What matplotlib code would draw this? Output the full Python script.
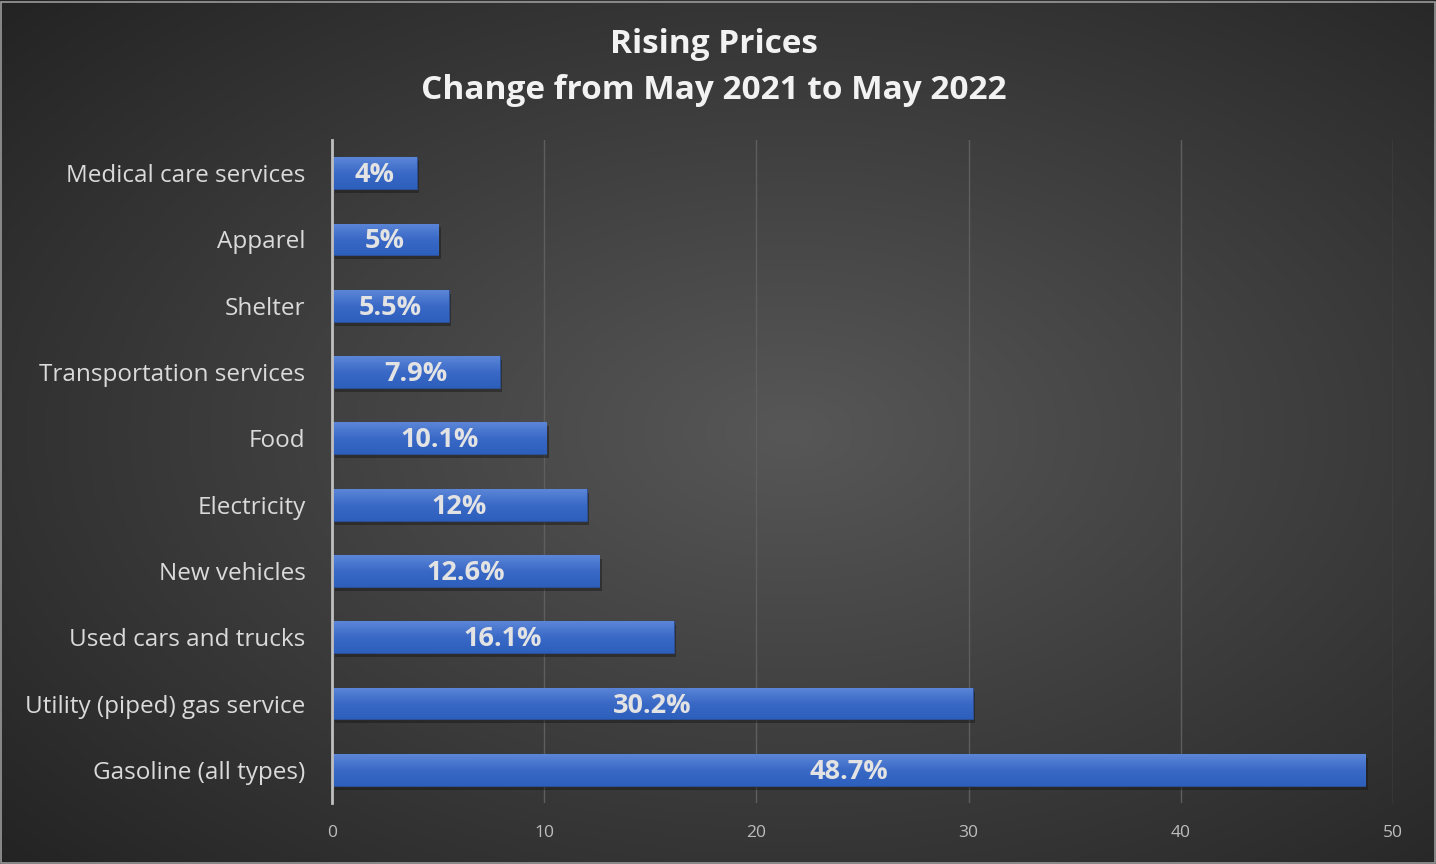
import numpy as np
import matplotlib
matplotlib.use("Agg")
import matplotlib.pyplot as plt
from matplotlib.colors import LinearSegmentedColormap

categories = ["Medical care services", "Apparel", "Shelter", "Transportation services",
              "Food", "Electricity", "New vehicles", "Used cars and trucks",
              "Utility (piped) gas service", "Gasoline (all types)"]
values = [4, 5, 5.5, 7.9, 10.1, 12, 12.6, 16.1, 30.2, 48.7]
labels = ["4%", "5%", "5.5%", "7.9%", "10.1%", "12%", "12.6%", "16.1%", "30.2%", "48.7%"]
xticks = [0, 10, 20, 30, 40, 50]

plt.rcParams['font.family'] = ['Open Sans', 'DejaVu Sans']

fig = plt.figure(figsize=(14.36, 8.64), dpi=100)

# radial background
bg = fig.add_axes([0, 0, 1, 1])
yy, xx = np.mgrid[0:1:300j, 0:1:500j]
r = np.sqrt(((xx - 0.55) / 0.75) ** 2 + ((yy - 0.5) / 0.75) ** 2)
bg_cmap = LinearSegmentedColormap.from_list("bg", ["#575757", "#232323"])
bg.imshow(r, cmap=bg_cmap, vmin=0, vmax=1.0, aspect="auto", extent=[0, 1, 0, 1])
bg.set_xlim(0, 1)
bg.set_ylim(0, 1)
bg.axis("off")
bg.add_patch(plt.Rectangle((0.001, 0.001), 0.998, 0.997, fill=False, ec="#9a9a9a", lw=1.2))

ax = fig.add_axes([0.2312, 0.0706, 0.7388, 0.7674])
ax.patch.set_alpha(0)
y = np.arange(len(categories))
bars = ax.barh(y, values, height=0.48, color="#3c6cc8", edgecolor="#2c4f94", lw=0.8, zorder=3)

bar_cmap = LinearSegmentedColormap.from_list("bar", ["#5b86d8", "#3a69c6", "#2d5fbd"])
grad = np.linspace(0, 1, 64).reshape(-1, 1)
for b in bars:
    x0, y0 = b.get_x(), b.get_y()
    w, h = b.get_width(), b.get_height()
    # shadow
    ax.add_patch(plt.Rectangle((x0 + 0.12, y0 + 0.06), w, h, color="#151515", alpha=0.45, zorder=2, lw=0))
    im = ax.imshow(grad, cmap=bar_cmap, aspect="auto", extent=[x0, x0 + w, y0 + h, y0], zorder=4)
    im.set_clip_path(b)

for yi, v, lab in zip(y, values, labels):
    ax.text(v / 2, yi + 0.03, lab, ha="center", va="center", color="#e3e3e3",
            fontsize=19.5, fontweight="bold", zorder=5)

ax.set_xlim(0, 50)
ax.set_ylim(len(categories) - 0.5, -0.5)
ax.set_xticks(xticks)
ax.set_yticks(y)
ax.set_yticklabels(categories, fontsize=17.5, color="#dadada")
ax.tick_params(axis="x", length=0, labelsize=12.5, labelcolor="#bdbdbd", pad=16)
ax.tick_params(axis="y", length=0, pad=19)
ax.grid(axis="x", color="#5e5e5e", lw=1, zorder=0)
for s in ["top", "right", "bottom"]:
    ax.spines[s].set_visible(False)
ax.spines["left"].set_color("#bfbfbf")
ax.spines["left"].set_linewidth(2)
ax.spines["left"].set_zorder(6)

fig.text(0.497, 0.948, "Rising Prices", ha="center", va="center", color="#f2f2f2",
         fontsize=24, fontweight="bold")
fig.text(0.497, 0.895, "Change from May 2021 to May 2022", ha="center", va="center",
         color="#f2f2f2", fontsize=24, fontweight="bold")

fig.savefig("out.png", dpi=100)
